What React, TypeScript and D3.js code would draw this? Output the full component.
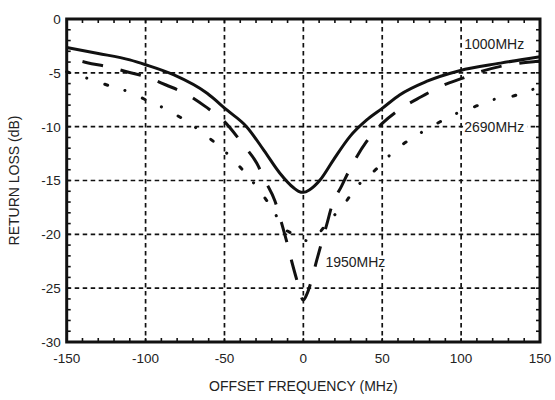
import React from 'react';
import * as d3 from 'd3';

const xTicks = [-150, -100, -50, 0, 50, 100, 150];
const yTicks = [0, -5, -10, -15, -20, -25, -30];

const off1000 = [-150, -130, -110, -100, -82, -61, -48.5, -36, -25, -15, -6, -3, 0, 4, 10.6, 19, 29.6, 40, 50, 61, 78, 99, 125, 150];
const rl1000 = [-2.65, -3.2, -3.8, -4.25, -5.2, -6.9, -8.45, -10.0, -12.2, -14.3, -15.7, -16.0, -16.1, -15.85, -14.95, -13.1, -10.9, -9.4, -8.3, -7.05, -5.8, -4.8, -4.1, -3.5];

const off1950 = [-140, -137, -124, -112, -99, -87, -75, -62, -50, -38, -29.5, -24.3, -18, -13.7, -10.5, -7.4, -4.2, 0, 2.1, 5.3, 8.5, 11.7, 14.8, 18, 24.3, 30, 40, 50, 62, 75, 88, 101, 112, 125, 150];
const rl1950 = [-3.95, -4.06, -4.43, -4.9, -5.4, -6.13, -6.9, -8.14, -9.53, -11.7, -13.4, -15.0, -16.9, -19.0, -20.7, -22.5, -24.2, -26.1, -25.6, -24.2, -22.4, -20.7, -19.1, -17.4, -15.5, -13.8, -11.4, -9.7, -8.3, -7.2, -6.2, -5.5, -4.9, -4.4, -3.9];

const off2690 = [-150, -135, -123, -111, -100, -85.5, -73, -61, -49, -38, -27.4, -18.6, -12.7, -7.4, -2, 3, 8, 14.8, 25.3, 33.8, 46.5, 58, 70.8, 82.4, 95, 107.7, 120, 132, 143.7, 150];
const rl2690 = [-4.9, -5.6, -6.2, -6.75, -7.5, -8.5, -9.6, -10.9, -12.4, -14.1, -16.0, -17.9, -19.4, -19.9, -20.4, -20.6, -20.2, -19.0, -17.3, -15.6, -13.9, -12.2, -10.9, -9.9, -8.9, -8.2, -7.5, -7.2, -6.6, -6.4];

const seriesLabels = ['1000MHz', '1950MHz', '2690MHz'];
const labelOffsets = [102, 14, 102];
const labelValues = [-2.3, -22.6, -10.0];

const xTitle = 'OFFSET FREQUENCY (MHz)';
const yTitle = 'RETURN LOSS (dB)';

const W = 555, H = 400;
const L = 66.7, R = 540, T = 19, B = 342;
const FONT = '"Liberation Sans", Arial, Helvetica, sans-serif';

export default function App() {
  const x = d3.scaleLinear().domain([-150, 150]).range([L, R]);
  const y = d3.scaleLinear().domain([-30, 0]).range([B, T]);
  const line = d3.line<[number, number]>().x(d => x(d[0])).y(d => y(d[1])).curve(d3.curveMonotoneX);
  const zip = (a: number[], b: number[]) => a.map((v, i) => [v, b[i]] as [number, number]);

  const minorX = d3.range(-150, 151, 10);
  const minorY = d3.range(-30, 1, 1);
  const labelW = 64, labelH = 13;

  return (
    <svg width={W} height={H} style={{ position: 'absolute', left: 0, top: 0, display: 'block' }} fontFamily={FONT}>
      <rect x={0} y={0} width={W} height={H} fill="#fff" />
      {/* grid */}
      {xTicks.slice(1, -1).map(t => (
        <line key={'gx' + t} x1={x(t)} x2={x(t)} y1={T} y2={B} stroke="#111" strokeWidth={1.7} strokeDasharray="4.5,3.5" />
      ))}
      {yTicks.slice(1, -1).map(t => (
        <line key={'gy' + t} x1={L} x2={R} y1={y(t)} y2={y(t)} stroke="#111" strokeWidth={1.7} strokeDasharray="4.5,3.5" />
      ))}
      {/* minor ticks */}
      {minorX.map(t => (
        <g key={'mx' + t}>
          <line x1={x(t)} x2={x(t)} y1={B} y2={B - 4} stroke="#111" strokeWidth={1.6} />
          <line x1={x(t)} x2={x(t)} y1={T} y2={T + 4} stroke="#111" strokeWidth={1.6} />
        </g>
      ))}
      {minorY.map(t => (
        <g key={'my' + t}>
          <line x1={L} x2={L + 4} y1={y(t)} y2={y(t)} stroke="#111" strokeWidth={1.6} />
          <line x1={R} x2={R - 4} y1={y(t)} y2={y(t)} stroke="#111" strokeWidth={1.6} />
        </g>
      ))}
      {/* labels with white background */}
      {seriesLabels.map((s, i) => (
        <rect key={'bg' + s} x={x(labelOffsets[i]) - 1} y={y(labelValues[i]) - labelH / 2} width={labelW} height={labelH} fill="#fff" />
      ))}
      {/* curves */}
      <path d={line(zip(off2690, rl2690)) || ''} fill="none" stroke="#111" strokeWidth={3} strokeDasharray="3,18,0.1,19" strokeLinecap="round" />
      <path d={line(zip(off1950, rl1950)) || ''} fill="none" stroke="#111" strokeWidth={3} strokeDasharray="21,18" />
      <path d={line(zip(off1000, rl1000)) || ''} fill="none" stroke="#111" strokeWidth={3} />
      {seriesLabels.map((s, i) => (
        <text key={'t' + s} x={x(labelOffsets[i])} y={y(labelValues[i])} dy="0.36em" fontSize={14} fill="#222">{s}</text>
      ))}
      {/* frame */}
      <rect x={L} y={T} width={R - L} height={B - T} fill="none" stroke="#111" strokeWidth={3} />
      {/* tick labels */}
      {xTicks.map(t => (
        <text key={'xl' + t} x={x(t)} y={B + 21} textAnchor="middle" fontSize={13.5} fill="#222">{t}</text>
      ))}
      {yTicks.map(t => (
        <text key={'yl' + t} x={L - 6} y={y(t)} dy="0.36em" textAnchor="end" fontSize={13.5} fill="#222">{t}</text>
      ))}
      <text x={(L + R) / 2} y={391} textAnchor="middle" fontSize={14} fill="#222">{xTitle}</text>
      <text transform={`translate(19,${(T + B) / 2}) rotate(-90)`} textAnchor="middle" fontSize={14} fill="#222">{yTitle}</text>
    </svg>
  );
}
